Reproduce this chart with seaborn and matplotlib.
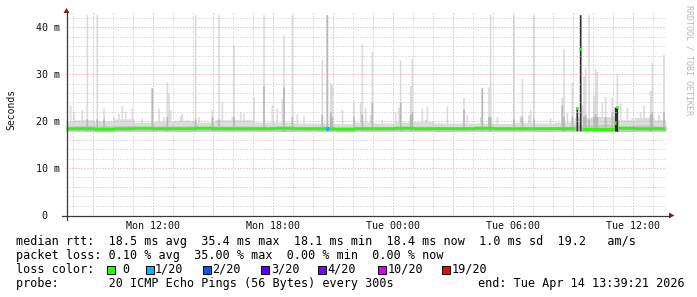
import numpy as np
import pandas as pd
import matplotlib
matplotlib.use("Agg")
import matplotlib.pyplot as plt
import seaborn as sns
from matplotlib.lines import Line2D
from matplotlib.patches import Polygon, Rectangle

# ---------------- data ----------------
end_hour = 37.656          # Tue 13:39:21, hours since Mon 00:00
span_hours = 30
steps_per_hour = 12        # 300 s step

block_hours = list(range(7, 38))   # hourly blocks 7..37
median_hourly = [18.4, 18.4, 18.3, 18.4, 18.5, 18.4, 18.4, 18.5, 18.4, 18.4, 18.4,
                 18.5, 18.4, 18.4, 18.3, 18.4, 18.4, 18.5, 18.4, 18.4, 18.4, 18.5,
                 18.4, 18.4, 18.4, 18.4, 18.4, 18.4, 18.5, 18.4, 18.4]
smoke_low_hourly = [17.9, 17.9, 17.8, 17.9, 17.9, 17.9, 17.8, 17.9, 17.9, 17.9, 17.9,
                    17.8, 17.9, 17.9, 17.8, 17.9, 17.9, 17.9, 17.9, 17.8, 17.9, 17.9,
                    17.9, 17.9, 17.8, 17.9, 17.9, 17.9, 17.8, 17.9, 17.9]
smoke_mid_hourly = [19.0, 19.1, 19.0, 19.1, 18.9, 19.0, 19.0, 18.9, 19.0, 19.0, 18.9,
                    18.9, 18.9, 18.9, 18.8, 18.9, 18.9, 18.9, 18.9, 18.9, 18.8, 18.8,
                    18.8, 18.9, 18.8, 18.9, 19.2, 19.3, 19.0, 19.2, 19.0]
smoke_top_hourly = [20.0, 20.3, 20.0, 20.5, 19.8, 20.0, 20.2, 19.8, 20.3, 20.3, 19.8,
                    19.8, 19.6, 19.6, 19.5, 19.8, 19.6, 19.8, 19.9, 19.6, 19.6, 19.6,
                    19.5, 19.7, 19.6, 19.8, 20.8, 21.0, 20.3, 20.8, 20.3]

spike_hour = [7.83, 8.03, 8.43, 8.68, 9.18, 9.55, 10.03, 10.28, 10.48, 10.58, 10.93,
              11.43, 11.98, 12.28, 12.53, 12.68, 12.78, 12.83, 13.33, 13.43, 13.68,
              14.08, 14.28, 14.93, 15.25, 15.48, 15.93, 16.03, 16.33, 16.53, 16.78,
              17.03, 17.53, 17.98, 18.23, 18.43, 18.53, 18.93, 19.18, 19.53, 20.48,
              20.73, 20.83, 20.98, 21.43, 22.03, 22.33, 22.43, 22.63, 22.83, 22.93,
              23.43, 24.08, 24.28, 24.38, 24.83, 24.93, 25.43, 25.63, 25.73, 26.73,
              27.53, 27.73, 28.33, 28.43, 28.78, 28.85, 29.18, 30.03, 30.33, 30.43,
              30.78, 30.88, 31.03, 31.83, 32.43, 32.50, 32.68, 32.93, 33.43, 33.53,
              33.63, 33.75, 33.93, 34.03, 34.13, 34.23, 34.43, 34.58, 34.98, 35.23,
              35.38, 35.73, 35.93, 36.38, 36.53, 36.83, 36.93, 37.28, 37.53]
spike_top = [23.5, 22.1, 22.4, 42.7, 42.7, 22.8, 21.0, 21.7, 23.5, 22.1, 22.8,
             20.6, 27.1, 22.8, 21.0, 28.4, 26.0, 22.4, 21.2, 21.7, 20.4,
             42.7, 21.0, 22.5, 42.7, 24.1, 21.0, 36.2, 22.0, 21.7, 20.4,
             25.2, 42.7, 23.5, 22.8, 24.8, 38.4, 42.7, 21.5, 21.2, 33.1,
             42.7, 28.2, 27.8, 22.5, 24.0, 23.9, 36.5, 23.0, 21.5, 34.9,
             20.4, 22.0, 23.0, 33.1, 27.6, 33.3, 22.8, 20.4, 23.2, 23.2,
             25.1, 21.5, 21.0, 27.1, 27.3, 42.7, 21.0, 42.7, 21.2, 29.2,
             21.4, 22.5, 42.7, 20.8, 25.1, 35.5, 22.0, 28.4, 23.5, 29.6,
             31.5, 42.7, 21.0, 25.5, 31.3, 30.6, 24.0, 25.2, 25.1, 30.3,
             23.9, 23.0, 20.8, 22.0, 23.5, 26.5, 32.5, 21.5, 34.2]
# darker inner smoke for some spikes (0 = none)
spike_mid = [0, 0, 0, 20.5, 20.5, 20.5, 0, 0, 0, 0, 0,
             0, 27.1, 0, 0, 21.0, 0, 0, 0, 0, 0,
             20.5, 0, 21.0, 20.5, 0, 0, 21.0, 0, 0, 0,
             0, 27.5, 0, 0, 0, 27.3, 21.0, 0, 0, 21.5,
             42.7, 22.0, 21.0, 0, 21.0, 0, 21.5, 0, 0, 24.0,
             0, 0, 0, 24.0, 21.5, 22.0, 0, 0, 0, 0,
             22.5, 0, 0, 27.1, 21.0, 21.0, 0, 20.5, 0, 21.0,
             0, 0, 20.5, 0, 23.5, 21.0, 0, 21.0, 0, 21.0,
             21.5, 20.5, 0, 21.0, 21.5, 21.0, 0, 21.0, 22.0, 21.5,
             0, 0, 0, 0, 0, 21.5, 22.0, 0, 22.0]

dark_hour = [33.23, 33.33, 35.13, 35.23]
dark_top = [23.0, 42.7, 23.0, 23.0]
median_override_hour = [33.23, 33.33, 35.13, 35.23]
median_override_ms = [22.8, 35.4, 19.7, 23.0]

loss_hour = [20.68]
loss_level = ["1/20"]

x_label_hours = [12, 18, 24, 30, 36]
x_tick_labels = ["Mon 12:00", "Mon 18:00", "Tue 00:00", "Tue 06:00", "Tue 12:00"]
y_ticks = [0, 10, 20, 30, 40]
y_tick_labels = ["0  ", "10 m", "20 m", "30 m", "40 m"]

loss_levels = ["0", "1/20", "2/20", "3/20", "4/20", "10/20", "19/20"]
loss_colors = ["#26ff00", "#00b8ff", "#0059ff", "#5e00ff", "#7e00ff", "#dd00ff", "#ff0000"]

legend_line1 = "median rtt:  18.5 ms avg  35.4 ms max  18.1 ms min  18.4 ms now  1.0 ms sd  19.2   am/s"
legend_line2 = "packet loss: 0.10 % avg  35.00 % max  0.00 % min  0.00 % now"
legend_line3 = "loss color:"
legend_line4 = "probe:       20 ICMP Echo Pings (56 Bytes) every 300s"
legend_end = "end: Tue Apr 14 13:39:21 2026"
watermark = "RRDTOOL / TOBI OETIKER"
y_title = "Seconds"

# ---------------- figure / layout ----------------
sns.set_style("white")
plt.rcParams["font.family"] = ["DejaVu Sans Mono"]

W, H = 697, 297
fig = plt.figure(figsize=(W / 100, H / 100), dpi=100)
fig.patch.set_facecolor("white")

def fx(px):
    return px / W

def fy(py):
    return 1 - py / H

ax_left, ax_right, ax_top, ax_bottom = 66, 666, 13, 215
ax = fig.add_axes([fx(ax_left), fy(ax_bottom), (ax_right - ax_left) / W, (ax_bottom - ax_top) / H])
ax.set_facecolor("white")

px_per_ms = 4.69
t0 = end_hour - span_hours

# ---------------- per-step series ----------------
n = span_hours * steps_per_hour
edges = t0 + np.arange(n + 1) / steps_per_hour
centers = (edges[:-1] + edges[1:]) / 2
blk = np.clip(np.floor(edges[:-1]).astype(int) - block_hours[0], 0, len(block_hours) - 1)
low = np.array(smoke_low_hourly)[blk]
mid = np.array(smoke_mid_hourly)[blk]
top = np.array(smoke_top_hourly)[blk]
med = np.array(median_hourly)[blk].astype(float)

def step_index(h):
    return int(np.clip(np.floor((h - t0) * steps_per_hour), 0, n - 1))

spike_mid_arr = np.full(n, np.nan)
for h, t, m in zip(spike_hour, spike_top, spike_mid):
    i = step_index(h)
    top[i] = max(top[i], t)
    if m > 0:
        spike_mid_arr[i] = m

dark_arr = np.full(n, np.nan)
for h, t in zip(dark_hour, dark_top):
    i = step_index(h)
    dark_arr[i] = t
    top[i] = max(top[i], t)

gap = np.zeros(n, dtype=bool)
for h in median_override_hour:
    gap[step_index(h)] = True

def ext(a):
    return np.append(a, a[-1])

# light smoke
ax.fill_between(edges, ext(low), ext(top), step="post", color="#dcdcdc", lw=0, zorder=1)
# inner darker smoke
ax.fill_between(edges, ext(low), ext(mid), step="post", color="#c6c6c6", lw=0, zorder=1.1)
sm = ~np.isnan(spike_mid_arr)
ax.fill_between(edges, ext(low), ext(np.where(sm, spike_mid_arr, low)), step="post",
                color="#b8b8b8", lw=0, zorder=1.2)
dk = ~np.isnan(dark_arr)
ax.fill_between(edges, ext(low), ext(np.where(dk, dark_arr, low)), step="post",
                color="#2e2e2e", lw=0, zorder=1.3)

# median line: one segment id per uninterrupted run
seg_id = np.cumsum(gap)
df = pd.DataFrame({"hour": centers, "median_ms": med, "segment": seg_id})[~gap]
green = loss_colors[0]
sns.lineplot(data=df, x="hour", y="median_ms", units="segment", estimator=None,
             color=green, linewidth=2.1, sort=False, ax=ax, zorder=3, legend=False,
             solid_capstyle="butt")
for h, v in zip(median_override_hour, median_override_ms):
    i = step_index(h)
    ax.hlines(v, edges[i], edges[i + 1], color=green, linewidth=2.1, zorder=3.1)
for h, lv in zip(loss_hour, loss_level):
    i = step_index(h)
    ax.hlines(med[i], edges[i], edges[i + 2], color=loss_colors[loss_levels.index(lv)],
              linewidth=2.6, zorder=3.2)

ax.set_xlabel("")
ax.set_ylabel("")
ax.set_xlim(t0, end_hour)
ax.set_ylim(0, (ax_bottom - ax_top) / px_per_ms)

# grid / ticks
ax.set_axisbelow(False)
major_x = list(range(9, 38, 3))
ax.set_xticks(major_x)
ax.set_xticklabels([x_tick_labels[x_label_hours.index(h)] if h in x_label_hours else "" for h in major_x])
ax.set_xticks(list(range(8, 38)), minor=True)
ax.set_yticks(y_ticks)
ax.set_yticklabels(y_tick_labels)
ax.set_yticks(list(range(0, 44, 2)), minor=True)
ax.grid(which="minor", color="#c4c4c4", linestyle=(0, (1, 2)), linewidth=0.72)
ax.grid(which="major", color="#e89a9a", linestyle=(0, (1, 2)), linewidth=0.72)
for side in ["left", "right", "top", "bottom"]:
    ax.spines[side].set_visible(False)
ax.tick_params(which="major", length=2.5, width=0.7, color="#404040", direction="out",
               labelsize=7.2, pad=2.0, labelcolor="#111111")
ax.tick_params(which="minor", length=1.8, width=0.7, color="#404040", direction="out")

# axis lines and arrows
axis_col = "#3a3a3a"
arrow_col = "#8a1c1c"
fig.add_artist(Line2D([fx(66.5), fx(66.5)], [fy(220), fy(11)], color=axis_col, lw=0.9))
fig.add_artist(Line2D([fx(62), fx(670)], [fy(215.5), fy(215.5)], color=axis_col, lw=0.9))
fig.add_artist(Polygon([[fx(63.5), fy(13)], [fx(69.5), fy(13)], [fx(66.5), fy(8)]],
                       closed=True, color=arrow_col, lw=0))
fig.add_artist(Polygon([[fx(669), fy(212.5)], [fx(669), fy(218.5)], [fx(674.5), fy(215.5)]],
                       closed=True, color=arrow_col, lw=0))

# titles
fig.text(fx(11), fy(109), y_title, rotation=90, ha="center", va="center", fontsize=7.0,
         color="#111111")
fig.text(fx(689), fy(5), watermark, rotation=270, ha="center", va="top", fontsize=6.0,
         color="#b8b8b8")

# legend block
lfs = 8.5
fig.text(fx(16), fy(241), legend_line1, ha="left", va="center", fontsize=lfs, color="#000000")
fig.text(fx(16), fy(255.5), legend_line2, ha="left", va="center", fontsize=lfs, color="#000000")
fig.text(fx(16), fy(269.5), legend_line3, ha="left", va="center", fontsize=lfs, color="#000000")
fig.text(fx(16), fy(283.5), legend_line4, ha="left", va="center", fontsize=lfs, color="#000000")
fig.text(fx(477.5), fy(283.5), legend_end, ha="left", va="center", fontsize=lfs, color="#000000")

box_x = [107.3, 146, 203.3, 261, 318.3, 378.3, 441.7]
label_x = [122, 154.8, 211.8, 271, 327.6, 388, 451.5]
for bx, lx, lab, col in zip(box_x, label_x, loss_levels, loss_colors):
    fig.add_artist(Rectangle((fx(bx), fy(273.5)), 8 / W, 8 / H, facecolor=col,
                             edgecolor="#000000", lw=0.7))
    fig.text(fx(lx), fy(269.5), lab, ha="left", va="center", fontsize=lfs, color="#000000")

fig.savefig("out.png", dpi=100, facecolor="white")
